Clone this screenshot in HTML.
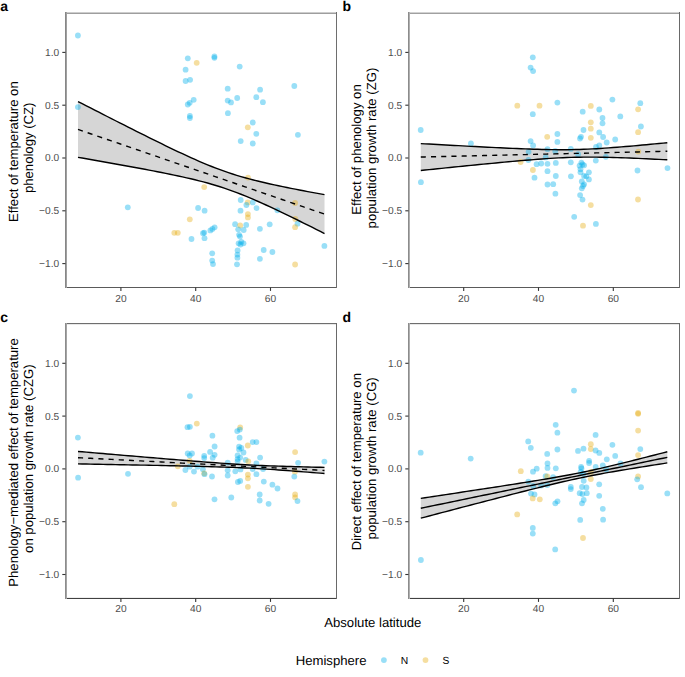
<!DOCTYPE html><html><head><meta charset="utf-8"><style>html,body{margin:0;padding:0;background:#fff;}svg{display:block;}text{font-family:"Liberation Sans", sans-serif;text-rendering:geometricPrecision;}</style></head><body>
<svg width="685" height="677" viewBox="0 0 685 677">
<rect width="685" height="677" fill="#fff"/>
<polygon points="78.00,101.52 82.18,103.67 86.36,105.81 90.53,107.95 94.71,110.09 98.89,112.23 103.07,114.37 107.25,116.50 111.42,118.63 115.60,120.75 119.78,122.87 123.96,124.99 128.14,127.10 132.31,129.21 136.49,131.31 140.67,133.40 144.85,135.49 149.03,137.56 153.20,139.63 157.38,141.69 161.56,143.74 165.74,145.77 169.92,147.79 174.09,149.79 178.27,151.77 182.45,153.73 186.63,155.66 190.81,157.57 194.98,159.44 199.16,161.27 203.34,163.06 207.52,164.80 211.69,166.49 215.87,168.12 220.05,169.69 224.23,171.20 228.41,172.64 232.58,174.02 236.76,175.33 240.94,176.58 245.12,177.77 249.30,178.91 253.47,180.00 257.65,181.04 261.83,182.05 266.01,183.02 270.19,183.97 274.36,184.88 278.54,185.78 282.72,186.65 286.90,187.51 291.08,188.35 295.25,189.17 299.43,189.99 303.61,190.79 307.79,191.58 311.97,192.37 316.14,193.15 320.32,193.92 324.50,194.68 324.50,233.53 320.32,231.42 316.14,229.32 311.97,227.23 307.79,225.15 303.61,223.07 299.43,221.00 295.25,218.95 291.08,216.90 286.90,214.87 282.72,212.86 278.54,210.86 274.36,208.88 270.19,206.93 266.01,205.00 261.83,203.11 257.65,201.24 253.47,199.42 249.30,197.64 245.12,195.91 240.94,194.23 236.76,192.61 232.58,191.05 228.41,189.55 224.23,188.12 220.05,186.76 215.87,185.46 211.69,184.22 207.52,183.04 203.34,181.91 199.16,180.83 194.98,179.79 190.81,178.79 186.63,177.83 182.45,176.89 178.27,175.98 174.09,175.09 169.92,174.22 165.74,173.37 161.56,172.53 157.38,171.71 153.20,170.89 149.03,170.09 144.85,169.30 140.67,168.52 136.49,167.74 132.31,166.97 128.14,166.20 123.96,165.45 119.78,164.69 115.60,163.94 111.42,163.20 107.25,162.46 103.07,161.72 98.89,160.98 94.71,160.25 90.53,159.52 86.36,158.79 82.18,158.06 78.00,157.34" fill="#d6d6d6"/>
<g><circle cx="77.9" cy="35.5" r="2.9" fill="rgb(0,174,234)" fill-opacity="0.4"/><circle cx="77.9" cy="107.1" r="2.9" fill="rgb(0,174,234)" fill-opacity="0.4"/><circle cx="187.8" cy="58.3" r="2.9" fill="rgb(0,174,234)" fill-opacity="0.4"/><circle cx="196.7" cy="62.8" r="2.9" fill="rgb(230,172,18)" fill-opacity="0.4"/><circle cx="185.6" cy="69.7" r="2.9" fill="rgb(0,174,234)" fill-opacity="0.4"/><circle cx="185.6" cy="81.0" r="2.9" fill="rgb(0,174,234)" fill-opacity="0.4"/><circle cx="190.1" cy="79.8" r="2.9" fill="rgb(0,174,234)" fill-opacity="0.4"/><circle cx="193.7" cy="99.8" r="2.9" fill="rgb(0,174,234)" fill-opacity="0.4"/><circle cx="187.8" cy="104.5" r="2.9" fill="rgb(0,174,234)" fill-opacity="0.4"/><circle cx="189.7" cy="102.8" r="2.9" fill="rgb(0,174,234)" fill-opacity="0.4"/><circle cx="189.9" cy="116.0" r="2.9" fill="rgb(0,174,234)" fill-opacity="0.4"/><circle cx="189.9" cy="118.0" r="2.9" fill="rgb(0,174,234)" fill-opacity="0.4"/><circle cx="214.4" cy="56.5" r="2.9" fill="rgb(0,174,234)" fill-opacity="0.4"/><circle cx="214.4" cy="57.8" r="2.9" fill="rgb(0,174,234)" fill-opacity="0.4"/><circle cx="239.7" cy="66.6" r="2.9" fill="rgb(0,174,234)" fill-opacity="0.4"/><circle cx="227.7" cy="88.7" r="2.9" fill="rgb(0,174,234)" fill-opacity="0.4"/><circle cx="260.1" cy="89.7" r="2.9" fill="rgb(0,174,234)" fill-opacity="0.4"/><circle cx="294.3" cy="86.0" r="2.9" fill="rgb(0,174,234)" fill-opacity="0.4"/><circle cx="227.7" cy="100.6" r="2.9" fill="rgb(0,174,234)" fill-opacity="0.4"/><circle cx="231.0" cy="102.4" r="2.9" fill="rgb(0,174,234)" fill-opacity="0.4"/><circle cx="237.2" cy="98.0" r="2.9" fill="rgb(0,174,234)" fill-opacity="0.4"/><circle cx="256.3" cy="97.2" r="2.9" fill="rgb(0,174,234)" fill-opacity="0.4"/><circle cx="262.9" cy="102.2" r="2.9" fill="rgb(0,174,234)" fill-opacity="0.4"/><circle cx="227.9" cy="113.2" r="2.9" fill="rgb(0,174,234)" fill-opacity="0.4"/><circle cx="252.8" cy="122.5" r="2.9" fill="rgb(0,174,234)" fill-opacity="0.4"/><circle cx="247.8" cy="127.3" r="2.9" fill="rgb(230,172,18)" fill-opacity="0.4"/><circle cx="256.3" cy="133.8" r="2.9" fill="rgb(0,174,234)" fill-opacity="0.4"/><circle cx="297.9" cy="134.8" r="2.9" fill="rgb(0,174,234)" fill-opacity="0.4"/><circle cx="240.7" cy="141.1" r="2.9" fill="rgb(0,174,234)" fill-opacity="0.4"/><circle cx="252.8" cy="143.5" r="2.9" fill="rgb(0,174,234)" fill-opacity="0.4"/><circle cx="127.8" cy="207.3" r="2.9" fill="rgb(0,174,234)" fill-opacity="0.4"/><circle cx="198.1" cy="208.0" r="2.9" fill="rgb(0,174,234)" fill-opacity="0.4"/><circle cx="189.8" cy="219.3" r="2.9" fill="rgb(230,172,18)" fill-opacity="0.4"/><circle cx="174.3" cy="232.8" r="2.9" fill="rgb(230,172,18)" fill-opacity="0.4"/><circle cx="177.8" cy="232.8" r="2.9" fill="rgb(230,172,18)" fill-opacity="0.4"/><circle cx="191.5" cy="239.0" r="2.9" fill="rgb(0,174,234)" fill-opacity="0.4"/><circle cx="204.6" cy="210.7" r="2.9" fill="rgb(0,174,234)" fill-opacity="0.4"/><circle cx="240.7" cy="200.0" r="2.9" fill="rgb(0,174,234)" fill-opacity="0.4"/><circle cx="247.7" cy="202.4" r="2.9" fill="rgb(230,172,18)" fill-opacity="0.4"/><circle cx="246.4" cy="205.0" r="2.9" fill="rgb(0,174,234)" fill-opacity="0.4"/><circle cx="252.8" cy="202.4" r="2.9" fill="rgb(0,174,234)" fill-opacity="0.4"/><circle cx="256.5" cy="208.1" r="2.9" fill="rgb(0,174,234)" fill-opacity="0.4"/><circle cx="240.5" cy="210.7" r="2.9" fill="rgb(0,174,234)" fill-opacity="0.4"/><circle cx="247.9" cy="214.1" r="2.9" fill="rgb(230,172,18)" fill-opacity="0.4"/><circle cx="247.9" cy="217.4" r="2.9" fill="rgb(230,172,18)" fill-opacity="0.4"/><circle cx="235.1" cy="224.2" r="2.9" fill="rgb(0,174,234)" fill-opacity="0.4"/><circle cx="240.2" cy="225.5" r="2.9" fill="rgb(230,172,18)" fill-opacity="0.4"/><circle cx="246.2" cy="224.9" r="2.9" fill="rgb(0,174,234)" fill-opacity="0.4"/><circle cx="238.2" cy="229.3" r="2.9" fill="rgb(0,174,234)" fill-opacity="0.4"/><circle cx="243.7" cy="230.0" r="2.9" fill="rgb(0,174,234)" fill-opacity="0.4"/><circle cx="239.1" cy="234.8" r="2.9" fill="rgb(0,174,234)" fill-opacity="0.4"/><circle cx="240.0" cy="236.6" r="2.9" fill="rgb(0,174,234)" fill-opacity="0.4"/><circle cx="238.6" cy="243.3" r="2.9" fill="rgb(0,174,234)" fill-opacity="0.4"/><circle cx="241.3" cy="241.9" r="2.9" fill="rgb(0,174,234)" fill-opacity="0.4"/><circle cx="243.5" cy="243.3" r="2.9" fill="rgb(0,174,234)" fill-opacity="0.4"/><circle cx="240.5" cy="244.5" r="2.9" fill="rgb(0,174,234)" fill-opacity="0.4"/><circle cx="259.9" cy="228.8" r="2.9" fill="rgb(0,174,234)" fill-opacity="0.4"/><circle cx="203.0" cy="233.2" r="2.9" fill="rgb(0,174,234)" fill-opacity="0.4"/><circle cx="204.3" cy="232.6" r="2.9" fill="rgb(0,174,234)" fill-opacity="0.4"/><circle cx="204.5" cy="238.2" r="2.9" fill="rgb(0,174,234)" fill-opacity="0.4"/><circle cx="210.4" cy="230.4" r="2.9" fill="rgb(0,174,234)" fill-opacity="0.4"/><circle cx="212.4" cy="228.9" r="2.9" fill="rgb(0,174,234)" fill-opacity="0.4"/><circle cx="214.6" cy="227.3" r="2.9" fill="rgb(0,174,234)" fill-opacity="0.4"/><circle cx="263.7" cy="250.0" r="2.9" fill="rgb(0,174,234)" fill-opacity="0.4"/><circle cx="237.6" cy="250.5" r="2.9" fill="rgb(0,174,234)" fill-opacity="0.4"/><circle cx="237.4" cy="254.6" r="2.9" fill="rgb(0,174,234)" fill-opacity="0.4"/><circle cx="237.4" cy="257.7" r="2.9" fill="rgb(0,174,234)" fill-opacity="0.4"/><circle cx="237.0" cy="264.3" r="2.9" fill="rgb(0,174,234)" fill-opacity="0.4"/><circle cx="212.2" cy="253.3" r="2.9" fill="rgb(0,174,234)" fill-opacity="0.4"/><circle cx="212.2" cy="260.6" r="2.9" fill="rgb(0,174,234)" fill-opacity="0.4"/><circle cx="213.0" cy="264.1" r="2.9" fill="rgb(0,174,234)" fill-opacity="0.4"/><circle cx="259.9" cy="258.8" r="2.9" fill="rgb(0,174,234)" fill-opacity="0.4"/><circle cx="277.4" cy="210.3" r="2.9" fill="rgb(0,174,234)" fill-opacity="0.4"/><circle cx="295.1" cy="203.0" r="2.9" fill="rgb(230,172,18)" fill-opacity="0.4"/><circle cx="295.3" cy="219.0" r="2.9" fill="rgb(230,172,18)" fill-opacity="0.4"/><circle cx="297.5" cy="223.7" r="2.9" fill="rgb(0,174,234)" fill-opacity="0.4"/><circle cx="295.1" cy="227.2" r="2.9" fill="rgb(230,172,18)" fill-opacity="0.4"/><circle cx="269.7" cy="224.3" r="2.9" fill="rgb(0,174,234)" fill-opacity="0.4"/><circle cx="324.4" cy="245.9" r="2.9" fill="rgb(0,174,234)" fill-opacity="0.4"/><circle cx="272.4" cy="252.0" r="2.9" fill="rgb(0,174,234)" fill-opacity="0.4"/><circle cx="295.1" cy="264.5" r="2.9" fill="rgb(230,172,18)" fill-opacity="0.4"/><circle cx="248.0" cy="177.6" r="2.9" fill="rgb(230,172,18)" fill-opacity="0.4"/><circle cx="204.2" cy="187.1" r="2.9" fill="rgb(230,172,18)" fill-opacity="0.4"/></g>
<polyline points="78.00,101.52 82.18,103.67 86.36,105.81 90.53,107.95 94.71,110.09 98.89,112.23 103.07,114.37 107.25,116.50 111.42,118.63 115.60,120.75 119.78,122.87 123.96,124.99 128.14,127.10 132.31,129.21 136.49,131.31 140.67,133.40 144.85,135.49 149.03,137.56 153.20,139.63 157.38,141.69 161.56,143.74 165.74,145.77 169.92,147.79 174.09,149.79 178.27,151.77 182.45,153.73 186.63,155.66 190.81,157.57 194.98,159.44 199.16,161.27 203.34,163.06 207.52,164.80 211.69,166.49 215.87,168.12 220.05,169.69 224.23,171.20 228.41,172.64 232.58,174.02 236.76,175.33 240.94,176.58 245.12,177.77 249.30,178.91 253.47,180.00 257.65,181.04 261.83,182.05 266.01,183.02 270.19,183.97 274.36,184.88 278.54,185.78 282.72,186.65 286.90,187.51 291.08,188.35 295.25,189.17 299.43,189.99 303.61,190.79 307.79,191.58 311.97,192.37 316.14,193.15 320.32,193.92 324.50,194.68" fill="none" stroke="#000" stroke-width="1.4"/>
<polyline points="78.00,157.34 82.18,158.06 86.36,158.79 90.53,159.52 94.71,160.25 98.89,160.98 103.07,161.72 107.25,162.46 111.42,163.20 115.60,163.94 119.78,164.69 123.96,165.45 128.14,166.20 132.31,166.97 136.49,167.74 140.67,168.52 144.85,169.30 149.03,170.09 153.20,170.89 157.38,171.71 161.56,172.53 165.74,173.37 169.92,174.22 174.09,175.09 178.27,175.98 182.45,176.89 186.63,177.83 190.81,178.79 194.98,179.79 199.16,180.83 203.34,181.91 207.52,183.04 211.69,184.22 215.87,185.46 220.05,186.76 224.23,188.12 228.41,189.55 232.58,191.05 236.76,192.61 240.94,194.23 245.12,195.91 249.30,197.64 253.47,199.42 257.65,201.24 261.83,203.11 266.01,205.00 270.19,206.93 274.36,208.88 278.54,210.86 282.72,212.86 286.90,214.87 291.08,216.90 295.25,218.95 299.43,221.00 303.61,223.07 307.79,225.15 311.97,227.23 316.14,229.32 320.32,231.42 324.50,233.53" fill="none" stroke="#000" stroke-width="1.4"/>
<polyline points="78.00,129.43 82.18,130.86 86.36,132.30 90.53,133.74 94.71,135.17 98.89,136.61 103.07,138.04 107.25,139.48 111.42,140.91 115.60,142.35 119.78,143.78 123.96,145.22 128.14,146.65 132.31,148.09 136.49,149.52 140.67,150.96 144.85,152.39 149.03,153.83 153.20,155.26 157.38,156.70 161.56,158.13 165.74,159.57 169.92,161.00 174.09,162.44 178.27,163.87 182.45,165.31 186.63,166.74 190.81,168.18 194.98,169.62 199.16,171.05 203.34,172.49 207.52,173.92 211.69,175.36 215.87,176.79 220.05,178.23 224.23,179.66 228.41,181.10 232.58,182.53 236.76,183.97 240.94,185.40 245.12,186.84 249.30,188.27 253.47,189.71 257.65,191.14 261.83,192.58 266.01,194.01 270.19,195.45 274.36,196.88 278.54,198.32 282.72,199.75 286.90,201.19 291.08,202.62 295.25,204.06 299.43,205.49 303.61,206.93 307.79,208.37 311.97,209.80 316.14,211.24 320.32,212.67 324.50,214.11" fill="none" stroke="#000" stroke-width="1.4" stroke-dasharray="5.1 5.1"/>
<g shape-rendering="crispEdges"><rect x="65" y="12" width="272" height="1" fill="rgb(205,205,205)"/><rect x="65" y="13" width="272" height="1" fill="rgb(158,158,158)"/><rect x="65" y="287" width="272" height="1" fill="rgb(90,90,90)"/><rect x="65" y="12" width="1" height="276" fill="rgb(135,135,135)"/><rect x="66" y="12" width="1" height="276" fill="rgb(160,160,160)"/><rect x="336" y="12" width="1" height="276" fill="rgb(110,110,110)"/></g>
<line x1="62.30" y1="52.40" x2="65.5" y2="52.40" stroke="#333" stroke-width="1.1"/><text x="59.2" y="55.80" font-size="10.2" fill="#4d4d4d" text-anchor="end">1.0</text><line x1="62.30" y1="105.20" x2="65.5" y2="105.20" stroke="#333" stroke-width="1.1"/><text x="59.2" y="108.60" font-size="10.2" fill="#4d4d4d" text-anchor="end">0.5</text><line x1="62.30" y1="158.00" x2="65.5" y2="158.00" stroke="#333" stroke-width="1.1"/><text x="59.2" y="161.40" font-size="10.2" fill="#4d4d4d" text-anchor="end">0.0</text><line x1="62.30" y1="210.80" x2="65.5" y2="210.80" stroke="#333" stroke-width="1.1"/><text x="59.2" y="214.20" font-size="10.2" fill="#4d4d4d" text-anchor="end">−0.5</text><line x1="62.30" y1="263.60" x2="65.5" y2="263.60" stroke="#333" stroke-width="1.1"/><text x="59.2" y="267.00" font-size="10.2" fill="#4d4d4d" text-anchor="end">−1.0</text><line x1="120.90" y1="287.5" x2="120.90" y2="290.9" stroke="#333" stroke-width="1.1"/><text x="120.90" y="301.70" font-size="10.2" fill="#4d4d4d" text-anchor="middle">20</text><line x1="195.70" y1="287.5" x2="195.70" y2="290.9" stroke="#333" stroke-width="1.1"/><text x="195.70" y="301.70" font-size="10.2" fill="#4d4d4d" text-anchor="middle">40</text><line x1="270.50" y1="287.5" x2="270.50" y2="290.9" stroke="#333" stroke-width="1.1"/><text x="270.50" y="301.70" font-size="10.2" fill="#4d4d4d" text-anchor="middle">60</text>
<polygon points="420.80,143.59 424.98,143.83 429.16,144.06 433.33,144.29 437.51,144.53 441.69,144.76 445.87,144.99 450.05,145.22 454.22,145.44 458.40,145.67 462.58,145.89 466.76,146.12 470.94,146.34 475.11,146.56 479.29,146.77 483.47,146.99 487.65,147.20 491.83,147.41 496.00,147.61 500.18,147.81 504.36,148.01 508.54,148.20 512.72,148.38 516.89,148.56 521.07,148.73 525.25,148.89 529.43,149.05 533.61,149.19 537.78,149.32 541.96,149.43 546.14,149.53 550.32,149.61 554.49,149.66 558.67,149.70 562.85,149.70 567.03,149.68 571.21,149.63 575.38,149.55 579.56,149.44 583.74,149.30 587.92,149.12 592.10,148.92 596.27,148.69 600.45,148.44 604.63,148.17 608.81,147.87 612.99,147.56 617.16,147.24 621.34,146.90 625.52,146.55 629.70,146.20 633.88,145.83 638.05,145.46 642.23,145.07 646.41,144.69 650.59,144.30 654.77,143.90 658.94,143.50 663.12,143.09 667.30,142.69 667.30,159.81 663.12,159.59 658.94,159.39 654.77,159.18 650.59,158.98 646.41,158.79 642.23,158.60 638.05,158.41 633.88,158.23 629.70,158.06 625.52,157.90 621.34,157.75 617.16,157.61 612.99,157.48 608.81,157.37 604.63,157.27 600.45,157.20 596.27,157.14 592.10,157.11 587.92,157.10 583.74,157.13 579.56,157.18 575.38,157.26 571.21,157.38 567.03,157.52 562.85,157.70 558.67,157.90 554.49,158.13 550.32,158.39 546.14,158.66 541.96,158.95 537.78,159.27 533.61,159.59 529.43,159.93 525.25,160.28 521.07,160.64 516.89,161.00 512.72,161.38 508.54,161.76 504.36,162.15 500.18,162.54 496.00,162.94 491.83,163.34 487.65,163.74 483.47,164.15 479.29,164.56 475.11,164.97 470.94,165.39 466.76,165.81 462.58,166.22 458.40,166.65 454.22,167.07 450.05,167.49 445.87,167.92 441.69,168.34 437.51,168.77 433.33,169.20 429.16,169.63 424.98,170.06 420.80,170.49" fill="#d6d6d6"/>
<g><circle cx="532.8" cy="57.3" r="2.9" fill="rgb(0,174,234)" fill-opacity="0.4"/><circle cx="530.6" cy="67.6" r="2.9" fill="rgb(0,174,234)" fill-opacity="0.4"/><circle cx="533.1" cy="71.1" r="2.9" fill="rgb(0,174,234)" fill-opacity="0.4"/><circle cx="517.3" cy="105.7" r="2.9" fill="rgb(230,172,18)" fill-opacity="0.4"/><circle cx="539.5" cy="105.7" r="2.9" fill="rgb(230,172,18)" fill-opacity="0.4"/><circle cx="532.8" cy="114.2" r="2.9" fill="rgb(0,174,234)" fill-opacity="0.4"/><circle cx="420.7" cy="130.0" r="2.9" fill="rgb(0,174,234)" fill-opacity="0.4"/><circle cx="470.9" cy="143.5" r="2.9" fill="rgb(0,174,234)" fill-opacity="0.4"/><circle cx="530.6" cy="141.1" r="2.9" fill="rgb(0,174,234)" fill-opacity="0.4"/><circle cx="533.1" cy="145.5" r="2.9" fill="rgb(0,174,234)" fill-opacity="0.4"/><circle cx="557.4" cy="102.6" r="2.9" fill="rgb(0,174,234)" fill-opacity="0.4"/><circle cx="612.4" cy="99.6" r="2.9" fill="rgb(0,174,234)" fill-opacity="0.4"/><circle cx="640.3" cy="103.2" r="2.9" fill="rgb(0,174,234)" fill-opacity="0.4"/><circle cx="590.8" cy="105.9" r="2.9" fill="rgb(230,172,18)" fill-opacity="0.4"/><circle cx="638.1" cy="109.3" r="2.9" fill="rgb(230,172,18)" fill-opacity="0.4"/><circle cx="599.3" cy="109.5" r="2.9" fill="rgb(0,174,234)" fill-opacity="0.4"/><circle cx="582.7" cy="111.7" r="2.9" fill="rgb(0,174,234)" fill-opacity="0.4"/><circle cx="602.5" cy="118.0" r="2.9" fill="rgb(0,174,234)" fill-opacity="0.4"/><circle cx="620.3" cy="116.4" r="2.9" fill="rgb(0,174,234)" fill-opacity="0.4"/><circle cx="602.5" cy="123.3" r="2.9" fill="rgb(0,174,234)" fill-opacity="0.4"/><circle cx="590.8" cy="122.3" r="2.9" fill="rgb(230,172,18)" fill-opacity="0.4"/><circle cx="640.9" cy="126.5" r="2.9" fill="rgb(0,174,234)" fill-opacity="0.4"/><circle cx="583.5" cy="130.0" r="2.9" fill="rgb(0,174,234)" fill-opacity="0.4"/><circle cx="590.8" cy="128.7" r="2.9" fill="rgb(230,172,18)" fill-opacity="0.4"/><circle cx="638.1" cy="132.2" r="2.9" fill="rgb(230,172,18)" fill-opacity="0.4"/><circle cx="547.2" cy="136.8" r="2.9" fill="rgb(230,172,18)" fill-opacity="0.4"/><circle cx="557.4" cy="134.0" r="2.9" fill="rgb(0,174,234)" fill-opacity="0.4"/><circle cx="599.3" cy="132.4" r="2.9" fill="rgb(0,174,234)" fill-opacity="0.4"/><circle cx="603.1" cy="137.0" r="2.9" fill="rgb(0,174,234)" fill-opacity="0.4"/><circle cx="581.0" cy="136.8" r="2.9" fill="rgb(0,174,234)" fill-opacity="0.4"/><circle cx="580.0" cy="138.5" r="2.9" fill="rgb(0,174,234)" fill-opacity="0.4"/><circle cx="590.8" cy="137.8" r="2.9" fill="rgb(230,172,18)" fill-opacity="0.4"/><circle cx="615.2" cy="139.5" r="2.9" fill="rgb(0,174,234)" fill-opacity="0.4"/><circle cx="606.7" cy="142.5" r="2.9" fill="rgb(0,174,234)" fill-opacity="0.4"/><circle cx="557.4" cy="141.9" r="2.9" fill="rgb(0,174,234)" fill-opacity="0.4"/><circle cx="599.3" cy="145.5" r="2.9" fill="rgb(0,174,234)" fill-opacity="0.4"/><circle cx="596.0" cy="147.0" r="2.9" fill="rgb(0,174,234)" fill-opacity="0.4"/><circle cx="420.9" cy="182.2" r="2.9" fill="rgb(0,174,234)" fill-opacity="0.4"/><circle cx="528.6" cy="151.8" r="2.9" fill="rgb(0,174,234)" fill-opacity="0.4"/><circle cx="547.5" cy="149.2" r="2.9" fill="rgb(0,174,234)" fill-opacity="0.4"/><circle cx="555.2" cy="151.0" r="2.9" fill="rgb(0,174,234)" fill-opacity="0.4"/><circle cx="545.7" cy="157.4" r="2.9" fill="rgb(0,174,234)" fill-opacity="0.4"/><circle cx="528.4" cy="160.0" r="2.9" fill="rgb(0,174,234)" fill-opacity="0.4"/><circle cx="520.6" cy="162.0" r="2.9" fill="rgb(230,172,18)" fill-opacity="0.4"/><circle cx="536.6" cy="164.2" r="2.9" fill="rgb(0,174,234)" fill-opacity="0.4"/><circle cx="541.2" cy="163.5" r="2.9" fill="rgb(0,174,234)" fill-opacity="0.4"/><circle cx="547.5" cy="163.8" r="2.9" fill="rgb(0,174,234)" fill-opacity="0.4"/><circle cx="555.8" cy="162.9" r="2.9" fill="rgb(0,174,234)" fill-opacity="0.4"/><circle cx="532.9" cy="170.0" r="2.9" fill="rgb(230,172,18)" fill-opacity="0.4"/><circle cx="547.5" cy="171.2" r="2.9" fill="rgb(0,174,234)" fill-opacity="0.4"/><circle cx="555.8" cy="176.0" r="2.9" fill="rgb(0,174,234)" fill-opacity="0.4"/><circle cx="534.5" cy="177.7" r="2.9" fill="rgb(0,174,234)" fill-opacity="0.4"/><circle cx="547.5" cy="184.5" r="2.9" fill="rgb(0,174,234)" fill-opacity="0.4"/><circle cx="553.2" cy="184.2" r="2.9" fill="rgb(0,174,234)" fill-opacity="0.4"/><circle cx="555.4" cy="193.7" r="2.9" fill="rgb(0,174,234)" fill-opacity="0.4"/><circle cx="570.8" cy="148.9" r="2.9" fill="rgb(0,174,234)" fill-opacity="0.4"/><circle cx="578.1" cy="154.2" r="2.9" fill="rgb(0,174,234)" fill-opacity="0.4"/><circle cx="605.9" cy="156.8" r="2.9" fill="rgb(0,174,234)" fill-opacity="0.4"/><circle cx="595.8" cy="160.6" r="2.9" fill="rgb(0,174,234)" fill-opacity="0.4"/><circle cx="570.8" cy="162.3" r="2.9" fill="rgb(0,174,234)" fill-opacity="0.4"/><circle cx="581.4" cy="162.6" r="2.9" fill="rgb(0,174,234)" fill-opacity="0.4"/><circle cx="584.1" cy="165.3" r="2.9" fill="rgb(0,174,234)" fill-opacity="0.4"/><circle cx="579.6" cy="165.7" r="2.9" fill="rgb(0,174,234)" fill-opacity="0.4"/><circle cx="580.5" cy="169.2" r="2.9" fill="rgb(0,174,234)" fill-opacity="0.4"/><circle cx="580.5" cy="172.3" r="2.9" fill="rgb(0,174,234)" fill-opacity="0.4"/><circle cx="588.9" cy="172.3" r="2.9" fill="rgb(0,174,234)" fill-opacity="0.4"/><circle cx="584.1" cy="175.9" r="2.9" fill="rgb(0,174,234)" fill-opacity="0.4"/><circle cx="586.3" cy="176.3" r="2.9" fill="rgb(0,174,234)" fill-opacity="0.4"/><circle cx="588.9" cy="179.4" r="2.9" fill="rgb(0,174,234)" fill-opacity="0.4"/><circle cx="570.9" cy="176.3" r="2.9" fill="rgb(0,174,234)" fill-opacity="0.4"/><circle cx="581.8" cy="181.5" r="2.9" fill="rgb(0,174,234)" fill-opacity="0.4"/><circle cx="584.1" cy="184.3" r="2.9" fill="rgb(0,174,234)" fill-opacity="0.4"/><circle cx="581.8" cy="188.3" r="2.9" fill="rgb(0,174,234)" fill-opacity="0.4"/><circle cx="580.1" cy="195.1" r="2.9" fill="rgb(0,174,234)" fill-opacity="0.4"/><circle cx="582.5" cy="199.6" r="2.9" fill="rgb(0,174,234)" fill-opacity="0.4"/><circle cx="590.8" cy="205.1" r="2.9" fill="rgb(230,172,18)" fill-opacity="0.4"/><circle cx="574.2" cy="216.8" r="2.9" fill="rgb(0,174,234)" fill-opacity="0.4"/><circle cx="583.0" cy="225.7" r="2.9" fill="rgb(230,172,18)" fill-opacity="0.4"/><circle cx="595.9" cy="223.9" r="2.9" fill="rgb(0,174,234)" fill-opacity="0.4"/><circle cx="638.3" cy="151.6" r="2.9" fill="rgb(230,172,18)" fill-opacity="0.4"/><circle cx="637.5" cy="170.5" r="2.9" fill="rgb(0,174,234)" fill-opacity="0.4"/><circle cx="667.5" cy="168.1" r="2.9" fill="rgb(0,174,234)" fill-opacity="0.4"/><circle cx="638.0" cy="199.5" r="2.9" fill="rgb(230,172,18)" fill-opacity="0.4"/><circle cx="582.5" cy="164.5" r="2.9" fill="rgb(0,174,234)" fill-opacity="0.4"/><circle cx="583.0" cy="186.0" r="2.9" fill="rgb(0,174,234)" fill-opacity="0.4"/></g>
<polyline points="420.80,143.59 424.98,143.83 429.16,144.06 433.33,144.29 437.51,144.53 441.69,144.76 445.87,144.99 450.05,145.22 454.22,145.44 458.40,145.67 462.58,145.89 466.76,146.12 470.94,146.34 475.11,146.56 479.29,146.77 483.47,146.99 487.65,147.20 491.83,147.41 496.00,147.61 500.18,147.81 504.36,148.01 508.54,148.20 512.72,148.38 516.89,148.56 521.07,148.73 525.25,148.89 529.43,149.05 533.61,149.19 537.78,149.32 541.96,149.43 546.14,149.53 550.32,149.61 554.49,149.66 558.67,149.70 562.85,149.70 567.03,149.68 571.21,149.63 575.38,149.55 579.56,149.44 583.74,149.30 587.92,149.12 592.10,148.92 596.27,148.69 600.45,148.44 604.63,148.17 608.81,147.87 612.99,147.56 617.16,147.24 621.34,146.90 625.52,146.55 629.70,146.20 633.88,145.83 638.05,145.46 642.23,145.07 646.41,144.69 650.59,144.30 654.77,143.90 658.94,143.50 663.12,143.09 667.30,142.69" fill="none" stroke="#000" stroke-width="1.4"/>
<polyline points="420.80,170.49 424.98,170.06 429.16,169.63 433.33,169.20 437.51,168.77 441.69,168.34 445.87,167.92 450.05,167.49 454.22,167.07 458.40,166.65 462.58,166.22 466.76,165.81 470.94,165.39 475.11,164.97 479.29,164.56 483.47,164.15 487.65,163.74 491.83,163.34 496.00,162.94 500.18,162.54 504.36,162.15 508.54,161.76 512.72,161.38 516.89,161.00 521.07,160.64 525.25,160.28 529.43,159.93 533.61,159.59 537.78,159.27 541.96,158.95 546.14,158.66 550.32,158.39 554.49,158.13 558.67,157.90 562.85,157.70 567.03,157.52 571.21,157.38 575.38,157.26 579.56,157.18 583.74,157.13 587.92,157.10 592.10,157.11 596.27,157.14 600.45,157.20 604.63,157.27 608.81,157.37 612.99,157.48 617.16,157.61 621.34,157.75 625.52,157.90 629.70,158.06 633.88,158.23 638.05,158.41 642.23,158.60 646.41,158.79 650.59,158.98 654.77,159.18 658.94,159.39 663.12,159.59 667.30,159.81" fill="none" stroke="#000" stroke-width="1.4"/>
<polyline points="420.80,157.04 424.98,156.94 429.16,156.85 433.33,156.75 437.51,156.65 441.69,156.55 445.87,156.45 450.05,156.35 454.22,156.26 458.40,156.16 462.58,156.06 466.76,155.96 470.94,155.86 475.11,155.76 479.29,155.67 483.47,155.57 487.65,155.47 491.83,155.37 496.00,155.27 500.18,155.18 504.36,155.08 508.54,154.98 512.72,154.88 516.89,154.78 521.07,154.68 525.25,154.59 529.43,154.49 533.61,154.39 537.78,154.29 541.96,154.19 546.14,154.09 550.32,154.00 554.49,153.90 558.67,153.80 562.85,153.70 567.03,153.60 571.21,153.51 575.38,153.41 579.56,153.31 583.74,153.21 587.92,153.11 592.10,153.01 596.27,152.92 600.45,152.82 604.63,152.72 608.81,152.62 612.99,152.52 617.16,152.42 621.34,152.33 625.52,152.23 629.70,152.13 633.88,152.03 638.05,151.93 642.23,151.84 646.41,151.74 650.59,151.64 654.77,151.54 658.94,151.44 663.12,151.34 667.30,151.25" fill="none" stroke="#000" stroke-width="1.4" stroke-dasharray="5.1 5.1"/>
<g shape-rendering="crispEdges"><rect x="408" y="12" width="272" height="1" fill="rgb(210,210,210)"/><rect x="408" y="13" width="272" height="1" fill="rgb(160,160,160)"/><rect x="408" y="287" width="272" height="1" fill="rgb(90,90,90)"/><rect x="408" y="12" width="1" height="276" fill="rgb(140,140,140)"/><rect x="409" y="12" width="1" height="276" fill="rgb(175,175,175)"/><rect x="679" y="12" width="1" height="276" fill="rgb(105,105,105)"/></g>
<line x1="405.30" y1="52.40" x2="408.5" y2="52.40" stroke="#333" stroke-width="1.1"/><text x="402.2" y="55.80" font-size="10.2" fill="#4d4d4d" text-anchor="end">1.0</text><line x1="405.30" y1="105.20" x2="408.5" y2="105.20" stroke="#333" stroke-width="1.1"/><text x="402.2" y="108.60" font-size="10.2" fill="#4d4d4d" text-anchor="end">0.5</text><line x1="405.30" y1="158.00" x2="408.5" y2="158.00" stroke="#333" stroke-width="1.1"/><text x="402.2" y="161.40" font-size="10.2" fill="#4d4d4d" text-anchor="end">0.0</text><line x1="405.30" y1="210.80" x2="408.5" y2="210.80" stroke="#333" stroke-width="1.1"/><text x="402.2" y="214.20" font-size="10.2" fill="#4d4d4d" text-anchor="end">−0.5</text><line x1="405.30" y1="263.60" x2="408.5" y2="263.60" stroke="#333" stroke-width="1.1"/><text x="402.2" y="267.00" font-size="10.2" fill="#4d4d4d" text-anchor="end">−1.0</text><line x1="463.70" y1="287.5" x2="463.70" y2="290.9" stroke="#333" stroke-width="1.1"/><text x="463.70" y="301.70" font-size="10.2" fill="#4d4d4d" text-anchor="middle">20</text><line x1="538.50" y1="287.5" x2="538.50" y2="290.9" stroke="#333" stroke-width="1.1"/><text x="538.50" y="301.70" font-size="10.2" fill="#4d4d4d" text-anchor="middle">40</text><line x1="613.30" y1="287.5" x2="613.30" y2="290.9" stroke="#333" stroke-width="1.1"/><text x="613.30" y="301.70" font-size="10.2" fill="#4d4d4d" text-anchor="middle">60</text>
<polygon points="78.00,451.43 82.18,451.79 86.36,452.14 90.53,452.50 94.71,452.86 98.89,453.21 103.07,453.57 107.25,453.93 111.42,454.28 115.60,454.64 119.78,454.99 123.96,455.35 128.14,455.70 132.31,456.05 136.49,456.40 140.67,456.76 144.85,457.11 149.03,457.46 153.20,457.81 157.38,458.15 161.56,458.50 165.74,458.85 169.92,459.19 174.09,459.53 178.27,459.87 182.45,460.21 186.63,460.55 190.81,460.88 194.98,461.21 199.16,461.54 203.34,461.86 207.52,462.18 211.69,462.49 215.87,462.80 220.05,463.10 224.23,463.39 228.41,463.68 232.58,463.95 236.76,464.21 240.94,464.47 245.12,464.71 249.30,464.93 253.47,465.15 257.65,465.35 261.83,465.53 266.01,465.71 270.19,465.87 274.36,466.03 278.54,466.17 282.72,466.31 286.90,466.44 291.08,466.56 295.25,466.68 299.43,466.79 303.61,466.90 307.79,467.00 311.97,467.10 316.14,467.20 320.32,467.30 324.50,467.39 324.50,473.50 320.32,473.16 316.14,472.83 311.97,472.49 307.79,472.16 303.61,471.83 299.43,471.51 295.25,471.19 291.08,470.87 286.90,470.56 282.72,470.26 278.54,469.96 274.36,469.67 270.19,469.39 266.01,469.12 261.83,468.87 257.65,468.62 253.47,468.39 249.30,468.17 245.12,467.96 240.94,467.77 236.76,467.59 232.58,467.42 228.41,467.26 224.23,467.11 220.05,466.97 215.87,466.84 211.69,466.71 207.52,466.59 203.34,466.48 199.16,466.37 194.98,466.26 190.81,466.16 186.63,466.06 182.45,465.96 178.27,465.87 174.09,465.78 169.92,465.69 165.74,465.60 161.56,465.51 157.38,465.42 153.20,465.34 149.03,465.25 144.85,465.17 140.67,465.09 136.49,465.01 132.31,464.93 128.14,464.85 123.96,464.77 119.78,464.69 115.60,464.61 111.42,464.53 107.25,464.45 103.07,464.38 98.89,464.30 94.71,464.22 90.53,464.15 86.36,464.07 82.18,464.00 78.00,463.92" fill="#d6d6d6"/>
<g><circle cx="189.9" cy="396.1" r="2.9" fill="rgb(0,174,234)" fill-opacity="0.4"/><circle cx="196.8" cy="423.6" r="2.9" fill="rgb(230,172,18)" fill-opacity="0.4"/><circle cx="187.5" cy="427.2" r="2.9" fill="rgb(0,174,234)" fill-opacity="0.4"/><circle cx="189.9" cy="426.8" r="2.9" fill="rgb(0,174,234)" fill-opacity="0.4"/><circle cx="77.9" cy="437.6" r="2.9" fill="rgb(0,174,234)" fill-opacity="0.4"/><circle cx="187.7" cy="453.5" r="2.9" fill="rgb(0,174,234)" fill-opacity="0.4"/><circle cx="192.0" cy="453.5" r="2.9" fill="rgb(0,174,234)" fill-opacity="0.4"/><circle cx="189.7" cy="455.5" r="2.9" fill="rgb(0,174,234)" fill-opacity="0.4"/><circle cx="78.1" cy="477.7" r="2.9" fill="rgb(0,174,234)" fill-opacity="0.4"/><circle cx="128.0" cy="473.8" r="2.9" fill="rgb(0,174,234)" fill-opacity="0.4"/><circle cx="212.4" cy="435.7" r="2.9" fill="rgb(0,174,234)" fill-opacity="0.4"/><circle cx="214.6" cy="446.5" r="2.9" fill="rgb(0,174,234)" fill-opacity="0.4"/><circle cx="210.1" cy="451.9" r="2.9" fill="rgb(0,174,234)" fill-opacity="0.4"/><circle cx="214.6" cy="454.8" r="2.9" fill="rgb(0,174,234)" fill-opacity="0.4"/><circle cx="212.7" cy="457.7" r="2.9" fill="rgb(0,174,234)" fill-opacity="0.4"/><circle cx="204.2" cy="455.8" r="2.9" fill="rgb(0,174,234)" fill-opacity="0.4"/><circle cx="204.2" cy="458.1" r="2.9" fill="rgb(0,174,234)" fill-opacity="0.4"/><circle cx="189.7" cy="460.8" r="2.9" fill="rgb(230,172,18)" fill-opacity="0.4"/><circle cx="174.3" cy="504.2" r="2.9" fill="rgb(230,172,18)" fill-opacity="0.4"/><circle cx="177.8" cy="466.3" r="2.9" fill="rgb(230,172,18)" fill-opacity="0.4"/><circle cx="185.4" cy="470.0" r="2.9" fill="rgb(0,174,234)" fill-opacity="0.4"/><circle cx="189.7" cy="466.7" r="2.9" fill="rgb(0,174,234)" fill-opacity="0.4"/><circle cx="194.0" cy="471.6" r="2.9" fill="rgb(0,174,234)" fill-opacity="0.4"/><circle cx="197.6" cy="466.7" r="2.9" fill="rgb(0,174,234)" fill-opacity="0.4"/><circle cx="202.9" cy="469.3" r="2.9" fill="rgb(0,174,234)" fill-opacity="0.4"/><circle cx="204.2" cy="473.3" r="2.9" fill="rgb(230,172,18)" fill-opacity="0.4"/><circle cx="204.5" cy="474.2" r="2.9" fill="rgb(0,174,234)" fill-opacity="0.4"/><circle cx="212.0" cy="476.5" r="2.9" fill="rgb(0,174,234)" fill-opacity="0.4"/><circle cx="227.7" cy="462.6" r="2.9" fill="rgb(0,174,234)" fill-opacity="0.4"/><circle cx="227.7" cy="470.3" r="2.9" fill="rgb(0,174,234)" fill-opacity="0.4"/><circle cx="227.7" cy="475.5" r="2.9" fill="rgb(0,174,234)" fill-opacity="0.4"/><circle cx="214.5" cy="499.3" r="2.9" fill="rgb(0,174,234)" fill-opacity="0.4"/><circle cx="240.2" cy="427.4" r="2.9" fill="rgb(230,172,18)" fill-opacity="0.4"/><circle cx="237.2" cy="431.1" r="2.9" fill="rgb(0,174,234)" fill-opacity="0.4"/><circle cx="239.8" cy="429.6" r="2.9" fill="rgb(0,174,234)" fill-opacity="0.4"/><circle cx="239.6" cy="437.7" r="2.9" fill="rgb(0,174,234)" fill-opacity="0.4"/><circle cx="247.8" cy="445.5" r="2.9" fill="rgb(230,172,18)" fill-opacity="0.4"/><circle cx="252.7" cy="442.1" r="2.9" fill="rgb(0,174,234)" fill-opacity="0.4"/><circle cx="256.4" cy="442.1" r="2.9" fill="rgb(0,174,234)" fill-opacity="0.4"/><circle cx="239.1" cy="446.6" r="2.9" fill="rgb(0,174,234)" fill-opacity="0.4"/><circle cx="241.3" cy="448.0" r="2.9" fill="rgb(0,174,234)" fill-opacity="0.4"/><circle cx="239.1" cy="449.5" r="2.9" fill="rgb(0,174,234)" fill-opacity="0.4"/><circle cx="243.5" cy="452.5" r="2.9" fill="rgb(0,174,234)" fill-opacity="0.4"/><circle cx="237.6" cy="455.4" r="2.9" fill="rgb(0,174,234)" fill-opacity="0.4"/><circle cx="237.6" cy="459.1" r="2.9" fill="rgb(0,174,234)" fill-opacity="0.4"/><circle cx="240.2" cy="457.6" r="2.9" fill="rgb(0,174,234)" fill-opacity="0.4"/><circle cx="237.6" cy="461.3" r="2.9" fill="rgb(0,174,234)" fill-opacity="0.4"/><circle cx="245.7" cy="459.9" r="2.9" fill="rgb(0,174,234)" fill-opacity="0.4"/><circle cx="248.3" cy="461.3" r="2.9" fill="rgb(230,172,18)" fill-opacity="0.4"/><circle cx="260.1" cy="457.6" r="2.9" fill="rgb(0,174,234)" fill-opacity="0.4"/><circle cx="256.4" cy="463.5" r="2.9" fill="rgb(0,174,234)" fill-opacity="0.4"/><circle cx="235.3" cy="471.3" r="2.9" fill="rgb(0,174,234)" fill-opacity="0.4"/><circle cx="240.5" cy="469.4" r="2.9" fill="rgb(0,174,234)" fill-opacity="0.4"/><circle cx="237.9" cy="482.0" r="2.9" fill="rgb(0,174,234)" fill-opacity="0.4"/><circle cx="240.2" cy="480.9" r="2.9" fill="rgb(0,174,234)" fill-opacity="0.4"/><circle cx="247.9" cy="474.6" r="2.9" fill="rgb(230,172,18)" fill-opacity="0.4"/><circle cx="247.9" cy="478.3" r="2.9" fill="rgb(230,172,18)" fill-opacity="0.4"/><circle cx="247.9" cy="486.8" r="2.9" fill="rgb(230,172,18)" fill-opacity="0.4"/><circle cx="252.7" cy="469.0" r="2.9" fill="rgb(0,174,234)" fill-opacity="0.4"/><circle cx="256.4" cy="474.2" r="2.9" fill="rgb(0,174,234)" fill-opacity="0.4"/><circle cx="263.1" cy="469.0" r="2.9" fill="rgb(0,174,234)" fill-opacity="0.4"/><circle cx="263.8" cy="481.6" r="2.9" fill="rgb(0,174,234)" fill-opacity="0.4"/><circle cx="259.7" cy="494.5" r="2.9" fill="rgb(0,174,234)" fill-opacity="0.4"/><circle cx="259.7" cy="500.5" r="2.9" fill="rgb(0,174,234)" fill-opacity="0.4"/><circle cx="231.3" cy="497.5" r="2.9" fill="rgb(0,174,234)" fill-opacity="0.4"/><circle cx="268.6" cy="503.8" r="2.9" fill="rgb(0,174,234)" fill-opacity="0.4"/><circle cx="295.1" cy="452.1" r="2.9" fill="rgb(230,172,18)" fill-opacity="0.4"/><circle cx="298.1" cy="462.8" r="2.9" fill="rgb(0,174,234)" fill-opacity="0.4"/><circle cx="324.4" cy="461.6" r="2.9" fill="rgb(0,174,234)" fill-opacity="0.4"/><circle cx="294.9" cy="471.7" r="2.9" fill="rgb(230,172,18)" fill-opacity="0.4"/><circle cx="294.3" cy="476.6" r="2.9" fill="rgb(0,174,234)" fill-opacity="0.4"/><circle cx="272.4" cy="484.7" r="2.9" fill="rgb(0,174,234)" fill-opacity="0.4"/><circle cx="277.5" cy="488.5" r="2.9" fill="rgb(0,174,234)" fill-opacity="0.4"/><circle cx="295.1" cy="494.4" r="2.9" fill="rgb(230,172,18)" fill-opacity="0.4"/><circle cx="295.1" cy="497.3" r="2.9" fill="rgb(230,172,18)" fill-opacity="0.4"/><circle cx="297.5" cy="501.1" r="2.9" fill="rgb(0,174,234)" fill-opacity="0.4"/></g>
<polyline points="78.00,451.43 82.18,451.79 86.36,452.14 90.53,452.50 94.71,452.86 98.89,453.21 103.07,453.57 107.25,453.93 111.42,454.28 115.60,454.64 119.78,454.99 123.96,455.35 128.14,455.70 132.31,456.05 136.49,456.40 140.67,456.76 144.85,457.11 149.03,457.46 153.20,457.81 157.38,458.15 161.56,458.50 165.74,458.85 169.92,459.19 174.09,459.53 178.27,459.87 182.45,460.21 186.63,460.55 190.81,460.88 194.98,461.21 199.16,461.54 203.34,461.86 207.52,462.18 211.69,462.49 215.87,462.80 220.05,463.10 224.23,463.39 228.41,463.68 232.58,463.95 236.76,464.21 240.94,464.47 245.12,464.71 249.30,464.93 253.47,465.15 257.65,465.35 261.83,465.53 266.01,465.71 270.19,465.87 274.36,466.03 278.54,466.17 282.72,466.31 286.90,466.44 291.08,466.56 295.25,466.68 299.43,466.79 303.61,466.90 307.79,467.00 311.97,467.10 316.14,467.20 320.32,467.30 324.50,467.39" fill="none" stroke="#000" stroke-width="1.4"/>
<polyline points="78.00,463.92 82.18,464.00 86.36,464.07 90.53,464.15 94.71,464.22 98.89,464.30 103.07,464.38 107.25,464.45 111.42,464.53 115.60,464.61 119.78,464.69 123.96,464.77 128.14,464.85 132.31,464.93 136.49,465.01 140.67,465.09 144.85,465.17 149.03,465.25 153.20,465.34 157.38,465.42 161.56,465.51 165.74,465.60 169.92,465.69 174.09,465.78 178.27,465.87 182.45,465.96 186.63,466.06 190.81,466.16 194.98,466.26 199.16,466.37 203.34,466.48 207.52,466.59 211.69,466.71 215.87,466.84 220.05,466.97 224.23,467.11 228.41,467.26 232.58,467.42 236.76,467.59 240.94,467.77 245.12,467.96 249.30,468.17 253.47,468.39 257.65,468.62 261.83,468.87 266.01,469.12 270.19,469.39 274.36,469.67 278.54,469.96 282.72,470.26 286.90,470.56 291.08,470.87 295.25,471.19 299.43,471.51 303.61,471.83 307.79,472.16 311.97,472.49 316.14,472.83 320.32,473.16 324.50,473.50" fill="none" stroke="#000" stroke-width="1.4"/>
<polyline points="78.00,457.68 82.18,457.89 86.36,458.11 90.53,458.32 94.71,458.54 98.89,458.76 103.07,458.97 107.25,459.19 111.42,459.41 115.60,459.62 119.78,459.84 123.96,460.06 128.14,460.27 132.31,460.49 136.49,460.71 140.67,460.92 144.85,461.14 149.03,461.36 153.20,461.57 157.38,461.79 161.56,462.00 165.74,462.22 169.92,462.44 174.09,462.65 178.27,462.87 182.45,463.09 186.63,463.30 190.81,463.52 194.98,463.74 199.16,463.95 203.34,464.17 207.52,464.39 211.69,464.60 215.87,464.82 220.05,465.04 224.23,465.25 228.41,465.47 232.58,465.68 236.76,465.90 240.94,466.12 245.12,466.33 249.30,466.55 253.47,466.77 257.65,466.98 261.83,467.20 266.01,467.42 270.19,467.63 274.36,467.85 278.54,468.07 282.72,468.28 286.90,468.50 291.08,468.72 295.25,468.93 299.43,469.15 303.61,469.37 307.79,469.58 311.97,469.80 316.14,470.01 320.32,470.23 324.50,470.45" fill="none" stroke="#000" stroke-width="1.4" stroke-dasharray="5.1 5.1"/>
<g shape-rendering="crispEdges"><rect x="65" y="323" width="272" height="1" fill="rgb(110,110,110)"/><rect x="65" y="324" width="272" height="1" fill="rgb(232,232,232)"/><rect x="65" y="597" width="272" height="1" fill="rgb(238,238,238)"/><rect x="65" y="598" width="272" height="1" fill="rgb(65,65,65)"/><rect x="65" y="323" width="1" height="276" fill="rgb(140,140,140)"/><rect x="66" y="323" width="1" height="276" fill="rgb(165,165,165)"/><rect x="336" y="323" width="1" height="276" fill="rgb(105,105,105)"/></g>
<line x1="62.30" y1="363.30" x2="65.5" y2="363.30" stroke="#333" stroke-width="1.1"/><text x="59.2" y="366.70" font-size="10.2" fill="#4d4d4d" text-anchor="end">1.0</text><line x1="62.30" y1="416.10" x2="65.5" y2="416.10" stroke="#333" stroke-width="1.1"/><text x="59.2" y="419.50" font-size="10.2" fill="#4d4d4d" text-anchor="end">0.5</text><line x1="62.30" y1="468.90" x2="65.5" y2="468.90" stroke="#333" stroke-width="1.1"/><text x="59.2" y="472.30" font-size="10.2" fill="#4d4d4d" text-anchor="end">0.0</text><line x1="62.30" y1="521.70" x2="65.5" y2="521.70" stroke="#333" stroke-width="1.1"/><text x="59.2" y="525.10" font-size="10.2" fill="#4d4d4d" text-anchor="end">−0.5</text><line x1="62.30" y1="574.50" x2="65.5" y2="574.50" stroke="#333" stroke-width="1.1"/><text x="59.2" y="577.90" font-size="10.2" fill="#4d4d4d" text-anchor="end">−1.0</text><line x1="120.90" y1="598.5" x2="120.90" y2="601.9" stroke="#333" stroke-width="1.1"/><text x="120.90" y="611.80" font-size="10.2" fill="#4d4d4d" text-anchor="middle">20</text><line x1="195.70" y1="598.5" x2="195.70" y2="601.9" stroke="#333" stroke-width="1.1"/><text x="195.70" y="611.80" font-size="10.2" fill="#4d4d4d" text-anchor="middle">40</text><line x1="270.50" y1="598.5" x2="270.50" y2="601.9" stroke="#333" stroke-width="1.1"/><text x="270.50" y="611.80" font-size="10.2" fill="#4d4d4d" text-anchor="middle">60</text>
<polygon points="420.80,498.35 424.98,497.72 429.16,497.10 433.33,496.47 437.51,495.84 441.69,495.21 445.87,494.58 450.05,493.95 454.22,493.32 458.40,492.69 462.58,492.06 466.76,491.43 470.94,490.79 475.11,490.16 479.29,489.52 483.47,488.88 487.65,488.25 491.83,487.60 496.00,486.96 500.18,486.32 504.36,485.67 508.54,485.02 512.72,484.36 516.89,483.71 521.07,483.05 525.25,482.38 529.43,481.71 533.61,481.03 537.78,480.35 541.96,479.66 546.14,478.96 550.32,478.25 554.49,477.52 558.67,476.79 562.85,476.03 567.03,475.26 571.21,474.48 575.38,473.67 579.56,472.83 583.74,471.98 587.92,471.10 592.10,470.20 596.27,469.28 600.45,468.34 604.63,467.38 608.81,466.40 612.99,465.40 617.16,464.40 621.34,463.38 625.52,462.35 629.70,461.31 633.88,460.27 638.05,459.22 642.23,458.16 646.41,457.10 650.59,456.03 654.77,454.96 658.94,453.89 663.12,452.81 667.30,451.73 667.30,462.93 663.12,463.58 658.94,464.23 654.77,464.88 650.59,465.53 646.41,466.19 642.23,466.86 638.05,467.53 633.88,468.20 629.70,468.88 625.52,469.57 621.34,470.27 617.16,470.98 612.99,471.70 608.81,472.43 604.63,473.18 600.45,473.95 596.27,474.73 592.10,475.53 587.92,476.36 583.74,477.21 579.56,478.08 575.38,478.98 571.21,479.89 567.03,480.83 562.85,481.79 558.67,482.76 554.49,483.75 550.32,484.75 546.14,485.77 541.96,486.79 537.78,487.83 533.61,488.87 529.43,489.92 525.25,490.98 521.07,492.04 516.89,493.10 512.72,494.17 508.54,495.24 504.36,496.32 500.18,497.40 496.00,498.48 491.83,499.56 487.65,500.65 483.47,501.74 479.29,502.82 475.11,503.91 470.94,505.01 466.76,506.10 462.58,507.19 458.40,508.29 454.22,509.38 450.05,510.48 445.87,511.57 441.69,512.67 437.51,513.77 433.33,514.87 429.16,515.97 424.98,517.07 420.80,518.17" fill="#d6d6d6"/>
<g><circle cx="420.7" cy="452.7" r="2.9" fill="rgb(0,174,234)" fill-opacity="0.4"/><circle cx="470.7" cy="458.6" r="2.9" fill="rgb(0,174,234)" fill-opacity="0.4"/><circle cx="528.2" cy="441.4" r="2.9" fill="rgb(0,174,234)" fill-opacity="0.4"/><circle cx="530.8" cy="447.8" r="2.9" fill="rgb(0,174,234)" fill-opacity="0.4"/><circle cx="574.0" cy="390.6" r="2.9" fill="rgb(0,174,234)" fill-opacity="0.4"/><circle cx="638.1" cy="413.0" r="2.9" fill="rgb(230,172,18)" fill-opacity="0.4"/><circle cx="638.1" cy="413.8" r="2.9" fill="rgb(230,172,18)" fill-opacity="0.4"/><circle cx="555.7" cy="424.8" r="2.9" fill="rgb(0,174,234)" fill-opacity="0.4"/><circle cx="557.4" cy="432.7" r="2.9" fill="rgb(0,174,234)" fill-opacity="0.4"/><circle cx="595.6" cy="434.9" r="2.9" fill="rgb(0,174,234)" fill-opacity="0.4"/><circle cx="638.1" cy="430.6" r="2.9" fill="rgb(230,172,18)" fill-opacity="0.4"/><circle cx="590.8" cy="444.2" r="2.9" fill="rgb(230,172,18)" fill-opacity="0.4"/><circle cx="590.8" cy="449.1" r="2.9" fill="rgb(230,172,18)" fill-opacity="0.4"/><circle cx="612.4" cy="444.8" r="2.9" fill="rgb(0,174,234)" fill-opacity="0.4"/><circle cx="583.5" cy="448.7" r="2.9" fill="rgb(0,174,234)" fill-opacity="0.4"/><circle cx="578.0" cy="450.9" r="2.9" fill="rgb(0,174,234)" fill-opacity="0.4"/><circle cx="557.4" cy="449.5" r="2.9" fill="rgb(0,174,234)" fill-opacity="0.4"/><circle cx="547.2" cy="453.9" r="2.9" fill="rgb(0,174,234)" fill-opacity="0.4"/><circle cx="595.6" cy="450.5" r="2.9" fill="rgb(0,174,234)" fill-opacity="0.4"/><circle cx="599.3" cy="452.9" r="2.9" fill="rgb(0,174,234)" fill-opacity="0.4"/><circle cx="640.3" cy="449.1" r="2.9" fill="rgb(0,174,234)" fill-opacity="0.4"/><circle cx="638.1" cy="455.1" r="2.9" fill="rgb(230,172,18)" fill-opacity="0.4"/><circle cx="615.2" cy="455.9" r="2.9" fill="rgb(0,174,234)" fill-opacity="0.4"/><circle cx="547.5" cy="463.4" r="2.9" fill="rgb(0,174,234)" fill-opacity="0.4"/><circle cx="547.5" cy="467.9" r="2.9" fill="rgb(0,174,234)" fill-opacity="0.4"/><circle cx="555.8" cy="468.3" r="2.9" fill="rgb(0,174,234)" fill-opacity="0.4"/><circle cx="520.8" cy="471.2" r="2.9" fill="rgb(230,172,18)" fill-opacity="0.4"/><circle cx="533.0" cy="471.7" r="2.9" fill="rgb(0,174,234)" fill-opacity="0.4"/><circle cx="536.7" cy="468.7" r="2.9" fill="rgb(0,174,234)" fill-opacity="0.4"/><circle cx="545.6" cy="476.1" r="2.9" fill="rgb(0,174,234)" fill-opacity="0.4"/><circle cx="547.3" cy="476.3" r="2.9" fill="rgb(230,172,18)" fill-opacity="0.4"/><circle cx="553.1" cy="477.2" r="2.9" fill="rgb(0,174,234)" fill-opacity="0.4"/><circle cx="528.3" cy="481.6" r="2.9" fill="rgb(0,174,234)" fill-opacity="0.4"/><circle cx="533.2" cy="486.0" r="2.9" fill="rgb(0,174,234)" fill-opacity="0.4"/><circle cx="541.1" cy="485.6" r="2.9" fill="rgb(0,174,234)" fill-opacity="0.4"/><circle cx="547.3" cy="485.1" r="2.9" fill="rgb(0,174,234)" fill-opacity="0.4"/><circle cx="570.8" cy="486.9" r="2.9" fill="rgb(0,174,234)" fill-opacity="0.4"/><circle cx="570.8" cy="489.1" r="2.9" fill="rgb(0,174,234)" fill-opacity="0.4"/><circle cx="531.0" cy="493.6" r="2.9" fill="rgb(0,174,234)" fill-opacity="0.4"/><circle cx="534.5" cy="494.4" r="2.9" fill="rgb(0,174,234)" fill-opacity="0.4"/><circle cx="532.7" cy="498.4" r="2.9" fill="rgb(230,172,18)" fill-opacity="0.4"/><circle cx="539.8" cy="499.3" r="2.9" fill="rgb(230,172,18)" fill-opacity="0.4"/><circle cx="555.3" cy="503.3" r="2.9" fill="rgb(0,174,234)" fill-opacity="0.4"/><circle cx="557.5" cy="501.3" r="2.9" fill="rgb(0,174,234)" fill-opacity="0.4"/><circle cx="517.2" cy="514.4" r="2.9" fill="rgb(230,172,18)" fill-opacity="0.4"/><circle cx="532.8" cy="527.9" r="2.9" fill="rgb(0,174,234)" fill-opacity="0.4"/><circle cx="532.8" cy="533.6" r="2.9" fill="rgb(0,174,234)" fill-opacity="0.4"/><circle cx="420.9" cy="560.0" r="2.9" fill="rgb(0,174,234)" fill-opacity="0.4"/><circle cx="606.8" cy="459.3" r="2.9" fill="rgb(0,174,234)" fill-opacity="0.4"/><circle cx="589.1" cy="460.8" r="2.9" fill="rgb(0,174,234)" fill-opacity="0.4"/><circle cx="589.1" cy="463.0" r="2.9" fill="rgb(0,174,234)" fill-opacity="0.4"/><circle cx="581.1" cy="467.0" r="2.9" fill="rgb(0,174,234)" fill-opacity="0.4"/><circle cx="581.5" cy="468.5" r="2.9" fill="rgb(0,174,234)" fill-opacity="0.4"/><circle cx="595.7" cy="467.0" r="2.9" fill="rgb(0,174,234)" fill-opacity="0.4"/><circle cx="602.8" cy="465.3" r="2.9" fill="rgb(0,174,234)" fill-opacity="0.4"/><circle cx="620.5" cy="463.5" r="2.9" fill="rgb(0,174,234)" fill-opacity="0.4"/><circle cx="606.3" cy="469.2" r="2.9" fill="rgb(0,174,234)" fill-opacity="0.4"/><circle cx="580.6" cy="471.9" r="2.9" fill="rgb(0,174,234)" fill-opacity="0.4"/><circle cx="583.3" cy="473.7" r="2.9" fill="rgb(0,174,234)" fill-opacity="0.4"/><circle cx="590.8" cy="471.9" r="2.9" fill="rgb(230,172,18)" fill-opacity="0.4"/><circle cx="590.8" cy="479.0" r="2.9" fill="rgb(230,172,18)" fill-opacity="0.4"/><circle cx="583.7" cy="480.8" r="2.9" fill="rgb(0,174,234)" fill-opacity="0.4"/><circle cx="599.2" cy="484.3" r="2.9" fill="rgb(0,174,234)" fill-opacity="0.4"/><circle cx="582.0" cy="487.0" r="2.9" fill="rgb(0,174,234)" fill-opacity="0.4"/><circle cx="586.4" cy="487.4" r="2.9" fill="rgb(0,174,234)" fill-opacity="0.4"/><circle cx="579.7" cy="493.2" r="2.9" fill="rgb(0,174,234)" fill-opacity="0.4"/><circle cx="582.4" cy="494.1" r="2.9" fill="rgb(0,174,234)" fill-opacity="0.4"/><circle cx="586.8" cy="493.2" r="2.9" fill="rgb(0,174,234)" fill-opacity="0.4"/><circle cx="583.7" cy="500.0" r="2.9" fill="rgb(0,174,234)" fill-opacity="0.4"/><circle cx="582.0" cy="503.3" r="2.9" fill="rgb(0,174,234)" fill-opacity="0.4"/><circle cx="599.2" cy="495.8" r="2.9" fill="rgb(0,174,234)" fill-opacity="0.4"/><circle cx="602.8" cy="508.8" r="2.9" fill="rgb(0,174,234)" fill-opacity="0.4"/><circle cx="580.2" cy="519.9" r="2.9" fill="rgb(0,174,234)" fill-opacity="0.4"/><circle cx="603.1" cy="519.7" r="2.9" fill="rgb(0,174,234)" fill-opacity="0.4"/><circle cx="583.0" cy="538.0" r="2.9" fill="rgb(230,172,18)" fill-opacity="0.4"/><circle cx="638.1" cy="476.4" r="2.9" fill="rgb(230,172,18)" fill-opacity="0.4"/><circle cx="637.2" cy="479.3" r="2.9" fill="rgb(0,174,234)" fill-opacity="0.4"/><circle cx="641.0" cy="487.2" r="2.9" fill="rgb(0,174,234)" fill-opacity="0.4"/><circle cx="667.3" cy="493.4" r="2.9" fill="rgb(0,174,234)" fill-opacity="0.4"/><circle cx="555.2" cy="549.4" r="2.9" fill="rgb(0,174,234)" fill-opacity="0.4"/></g>
<polyline points="420.80,498.35 424.98,497.72 429.16,497.10 433.33,496.47 437.51,495.84 441.69,495.21 445.87,494.58 450.05,493.95 454.22,493.32 458.40,492.69 462.58,492.06 466.76,491.43 470.94,490.79 475.11,490.16 479.29,489.52 483.47,488.88 487.65,488.25 491.83,487.60 496.00,486.96 500.18,486.32 504.36,485.67 508.54,485.02 512.72,484.36 516.89,483.71 521.07,483.05 525.25,482.38 529.43,481.71 533.61,481.03 537.78,480.35 541.96,479.66 546.14,478.96 550.32,478.25 554.49,477.52 558.67,476.79 562.85,476.03 567.03,475.26 571.21,474.48 575.38,473.67 579.56,472.83 583.74,471.98 587.92,471.10 592.10,470.20 596.27,469.28 600.45,468.34 604.63,467.38 608.81,466.40 612.99,465.40 617.16,464.40 621.34,463.38 625.52,462.35 629.70,461.31 633.88,460.27 638.05,459.22 642.23,458.16 646.41,457.10 650.59,456.03 654.77,454.96 658.94,453.89 663.12,452.81 667.30,451.73" fill="none" stroke="#000" stroke-width="1.4"/>
<polyline points="420.80,518.17 424.98,517.07 429.16,515.97 433.33,514.87 437.51,513.77 441.69,512.67 445.87,511.57 450.05,510.48 454.22,509.38 458.40,508.29 462.58,507.19 466.76,506.10 470.94,505.01 475.11,503.91 479.29,502.82 483.47,501.74 487.65,500.65 491.83,499.56 496.00,498.48 500.18,497.40 504.36,496.32 508.54,495.24 512.72,494.17 516.89,493.10 521.07,492.04 525.25,490.98 529.43,489.92 533.61,488.87 537.78,487.83 541.96,486.79 546.14,485.77 550.32,484.75 554.49,483.75 558.67,482.76 562.85,481.79 567.03,480.83 571.21,479.89 575.38,478.98 579.56,478.08 583.74,477.21 587.92,476.36 592.10,475.53 596.27,474.73 600.45,473.95 604.63,473.18 608.81,472.43 612.99,471.70 617.16,470.98 621.34,470.27 625.52,469.57 629.70,468.88 633.88,468.20 638.05,467.53 642.23,466.86 646.41,466.19 650.59,465.53 654.77,464.88 658.94,464.23 663.12,463.58 667.30,462.93" fill="none" stroke="#000" stroke-width="1.4"/>
<polyline points="420.80,508.26 424.98,507.39 429.16,506.53 433.33,505.67 437.51,504.80 441.69,503.94 445.87,503.08 450.05,502.22 454.22,501.35 458.40,500.49 462.58,499.63 466.76,498.76 470.94,497.90 475.11,497.04 479.29,496.17 483.47,495.31 487.65,494.45 491.83,493.58 496.00,492.72 500.18,491.86 504.36,490.99 508.54,490.13 512.72,489.27 516.89,488.40 521.07,487.54 525.25,486.68 529.43,485.82 533.61,484.95 537.78,484.09 541.96,483.23 546.14,482.36 550.32,481.50 554.49,480.64 558.67,479.77 562.85,478.91 567.03,478.05 571.21,477.18 575.38,476.32 579.56,475.46 583.74,474.59 587.92,473.73 592.10,472.87 596.27,472.00 600.45,471.14 604.63,470.28 608.81,469.42 612.99,468.55 617.16,467.69 621.34,466.83 625.52,465.96 629.70,465.10 633.88,464.24 638.05,463.37 642.23,462.51 646.41,461.65 650.59,460.78 654.77,459.92 658.94,459.06 663.12,458.19 667.30,457.33" fill="none" stroke="#000" stroke-width="1.4"/>
<g shape-rendering="crispEdges"><rect x="408" y="323" width="272" height="1" fill="rgb(110,110,110)"/><rect x="408" y="324" width="272" height="1" fill="rgb(232,232,232)"/><rect x="408" y="597" width="272" height="1" fill="rgb(238,238,238)"/><rect x="408" y="598" width="272" height="1" fill="rgb(65,65,65)"/><rect x="408" y="323" width="1" height="276" fill="rgb(140,140,140)"/><rect x="409" y="323" width="1" height="276" fill="rgb(175,175,175)"/><rect x="679" y="323" width="1" height="276" fill="rgb(105,105,105)"/></g>
<line x1="405.30" y1="363.30" x2="408.5" y2="363.30" stroke="#333" stroke-width="1.1"/><text x="402.2" y="366.70" font-size="10.2" fill="#4d4d4d" text-anchor="end">1.0</text><line x1="405.30" y1="416.10" x2="408.5" y2="416.10" stroke="#333" stroke-width="1.1"/><text x="402.2" y="419.50" font-size="10.2" fill="#4d4d4d" text-anchor="end">0.5</text><line x1="405.30" y1="468.90" x2="408.5" y2="468.90" stroke="#333" stroke-width="1.1"/><text x="402.2" y="472.30" font-size="10.2" fill="#4d4d4d" text-anchor="end">0.0</text><line x1="405.30" y1="521.70" x2="408.5" y2="521.70" stroke="#333" stroke-width="1.1"/><text x="402.2" y="525.10" font-size="10.2" fill="#4d4d4d" text-anchor="end">−0.5</text><line x1="405.30" y1="574.50" x2="408.5" y2="574.50" stroke="#333" stroke-width="1.1"/><text x="402.2" y="577.90" font-size="10.2" fill="#4d4d4d" text-anchor="end">−1.0</text><line x1="463.70" y1="598.5" x2="463.70" y2="601.9" stroke="#333" stroke-width="1.1"/><text x="463.70" y="611.80" font-size="10.2" fill="#4d4d4d" text-anchor="middle">20</text><line x1="538.50" y1="598.5" x2="538.50" y2="601.9" stroke="#333" stroke-width="1.1"/><text x="538.50" y="611.80" font-size="10.2" fill="#4d4d4d" text-anchor="middle">40</text><line x1="613.30" y1="598.5" x2="613.30" y2="601.9" stroke="#333" stroke-width="1.1"/><text x="613.30" y="611.80" font-size="10.2" fill="#4d4d4d" text-anchor="middle">60</text>
<text x="0.3" y="10.6" font-size="14" font-weight="bold" fill="#000">a</text>
<text x="342.6" y="10.6" font-size="14" font-weight="bold" fill="#000">b</text>
<text x="0.3" y="321.6" font-size="14" font-weight="bold" fill="#000">c</text>
<text x="342.6" y="321.6" font-size="14" font-weight="bold" fill="#000">d</text>
<text transform="translate(18.0,222.0) rotate(-90)" font-size="13.15" fill="#000">Effect of temperature on</text>
<text transform="translate(33.0,193.1) rotate(-90)" font-size="13.15" fill="#000">phenology (CZ)</text>
<text transform="translate(361.0,214.8) rotate(-90)" font-size="13.15" fill="#000">Effect of phenology on</text>
<text transform="translate(376.0,228.4) rotate(-90)" font-size="13.15" fill="#000">population growth rate (ZG)</text>
<text transform="translate(18.0,586.7) rotate(-90)" font-size="13.15" fill="#000">Phenology−mediated effect of temperature</text>
<text transform="translate(33.0,552.9) rotate(-90)" font-size="13.15" fill="#000">on population growth rate (CZG)</text>
<text transform="translate(361.0,550.3) rotate(-90)" font-size="13.15" fill="#000">Direct effect of temperature on</text>
<text transform="translate(376.0,539.4) rotate(-90)" font-size="13.15" fill="#000">population growth rate (CG)</text>
<text x="372.8" y="627.3" font-size="13.15" fill="#000" text-anchor="middle">Absolute latitude</text>
<text x="295.7" y="664.6" font-size="13.15" fill="#000">Hemisphere</text>
<circle cx="383.9" cy="660.1" r="2.9" fill="rgb(0,174,234)" fill-opacity="0.4"/>
<circle cx="425.5" cy="660.1" r="2.9" fill="rgb(230,172,18)" fill-opacity="0.4"/>
<text x="400.8" y="664.1" font-size="10.3" fill="#000">N</text>
<text x="442.4" y="664.1" font-size="10.3" fill="#000">S</text>
</svg></body></html>
